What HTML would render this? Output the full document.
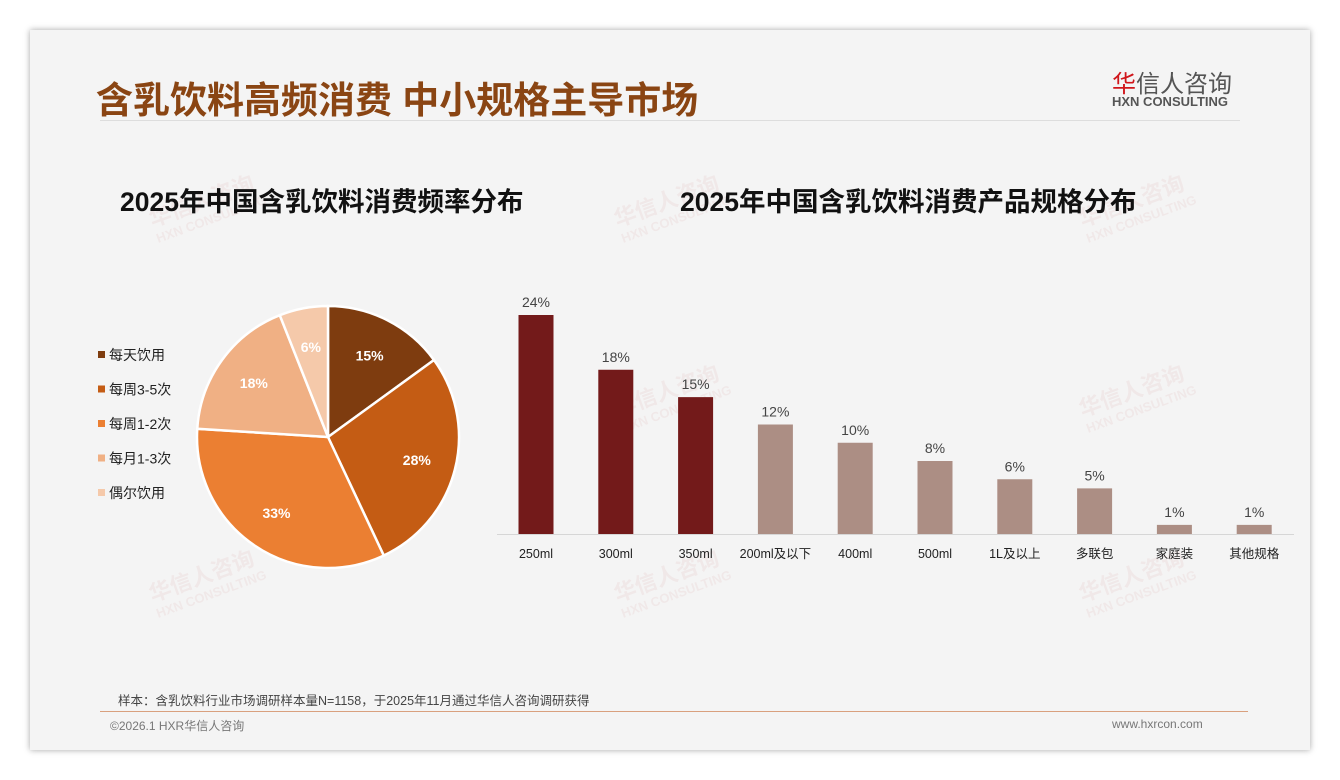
<!DOCTYPE html>
<html><head><meta charset="utf-8"><style>
body{margin:0;width:1340px;height:780px;background:#fff;position:relative;overflow:hidden;font-family:"Liberation Sans","Noto Sans CJK SC",sans-serif}
.slide{position:absolute;left:30px;top:30px;width:1280px;height:720px;background:#f4f4f4;box-shadow:0 0 6px rgba(0,0,0,.35)}
.abs{position:absolute;white-space:nowrap}
.wm{position:absolute;color:rgba(200,80,80,.07);font-weight:bold;transform:rotate(-20deg);font-size:22px;line-height:20px}
.wm small{display:block;font-size:13px}
</style></head><body>
<div class="slide"></div>
<div class="abs" style="left:96px;top:70px;font-size:37px;font-weight:bold;color:#8a4513;">含乳饮料高频消费 中小规格主导市场</div>
<div class="abs" style="left:1112px;top:64px;font-size:24px;color:#555;"><span style="color:#d0161b">华</span>信人咨询</div>
<div class="abs" style="left:1112px;top:94px;font-size:13px;font-weight:bold;color:#555;">HXN CONSULTING</div>
<div class="abs" style="left:100px;top:120px;width:1140px;height:1px;background:#ddd"></div>
<div class="wm" style="left:150px;top:190px">华信人咨询<small>HXN CONSULTING</small></div>
<div class="wm" style="left:615px;top:190px">华信人咨询<small>HXN CONSULTING</small></div>
<div class="wm" style="left:1080px;top:190px">华信人咨询<small>HXN CONSULTING</small></div>
<div class="wm" style="left:615px;top:380px">华信人咨询<small>HXN CONSULTING</small></div>
<div class="wm" style="left:1080px;top:380px">华信人咨询<small>HXN CONSULTING</small></div>
<div class="wm" style="left:150px;top:565px">华信人咨询<small>HXN CONSULTING</small></div>
<div class="wm" style="left:615px;top:565px">华信人咨询<small>HXN CONSULTING</small></div>
<div class="wm" style="left:1080px;top:565px">华信人咨询<small>HXN CONSULTING</small></div>
<div class="abs" style="left:120px;top:180px;font-size:26.5px;font-weight:bold;color:#111">2025年中国含乳饮料消费频率分布</div>
<div class="abs" style="left:680px;top:180px;font-size:26.5px;font-weight:bold;color:#111">2025年中国含乳饮料消费产品规格分布</div>
<svg id="chart" width="1340" height="780" style="position:absolute;left:0;top:0"></svg>
<div class="abs" style="left:118px;top:690px;font-size:12.5px;color:#444">样本：含乳饮料行业市场调研样本量N=1158，于2025年11月通过华信人咨询调研获得</div>
<div class="abs" style="left:100px;top:711px;width:1148px;height:1px;background:#d9a07e"></div>
<div class="abs" style="left:110px;top:717px;font-size:12px;color:#777">©2026.1 HXR华信人咨询</div>
<div class="abs" style="left:1112px;top:717px;font-size:12px;color:#777">www.hxrcon.com</div>
<script>
const pieLabels=["每天饮用","每周3-5次","每周1-2次","每月1-3次","偶尔饮用"];
const pieValues=[15,28,33,18,6];
const pieColors=["#7e3c0f","#c45c14","#eb7f32","#f0b084","#f5c9aa"];
const barCats=["250ml","300ml","350ml","200ml及以下","400ml","500ml","1L及以上","多联包","家庭装","其他规格"];
const barValues=[24,18,15,12,10,8,6,5,1,1];
const NS="http://www.w3.org/2000/svg";
const svg=document.getElementById('chart');
function mk(t,a,p){const e=document.createElementNS(NS,t);for(const k in a)e.setAttribute(k,a[k]);(p||svg).appendChild(e);return e;}
const cx=328,cy=437,r=131;
const total=pieValues.reduce((a,b)=>a+b,0);
let ang=0;
pieValues.forEach((v,i)=>{
  const a0=ang,a1=ang+v/total*2*Math.PI;ang=a1;
  const p=(a)=>[cx+r*Math.sin(a),cy-r*Math.cos(a)];
  const [x0,y0]=p(a0),[x1,y1]=p(a1);
  const s=mk('path',{d:`M${cx},${cy}L${x0},${y0}A${r},${r} 0 ${a1-a0>Math.PI?1:0} 1 ${x1},${y1}Z`,fill:pieColors[i],stroke:'#fff','stroke-width':2.5});
  
  
  const m=(a0+a1)/2,lr=r*0.7;
  const t=mk('text',{x:cx+lr*Math.sin(m),y:cy-lr*Math.cos(m)+5,'text-anchor':'middle','font-size':14,'font-weight':'bold',fill:'#fff'});
  t.textContent=v+'%';
  
  
  const ly=355+i*34.5;
  const sq=mk('rect',{x:98,y:ly-4,width:7,height:7,fill:pieColors[i]});
  
  
  const lt=mk('text',{x:109,y:ly+5,'font-size':14,fill:'#222'});
  lt.textContent=pieLabels[i];
  
  
});
const base=534,scale=9.125,x0=536,step=79.8,bw=35;
const yOf=v=>base-v*scale;
const ax=mk('line',{x1:497,x2:1294,y1:base+0.5,y2:base+0.5,stroke:'#d6d6d6'});


barCats.forEach((c,i)=>{
  const xc=x0+i*step,v=barValues[i];
  const b=mk('rect',{x:xc-bw/2,y:yOf(v),width:bw,height:base-yOf(v),fill:i<3?'#731a1a':'#ac8e84'});
  
  
  const t=mk('text',{x:xc,y:yOf(v)-8,'text-anchor':'middle','font-size':14,fill:'#444'});
  t.textContent=v+'%';
  
  
  const l=mk('text',{x:xc,y:558,'text-anchor':'middle','font-size':12.5,fill:'#222'});
  l.textContent=c;
  
  
});
</script>
</body></html>
